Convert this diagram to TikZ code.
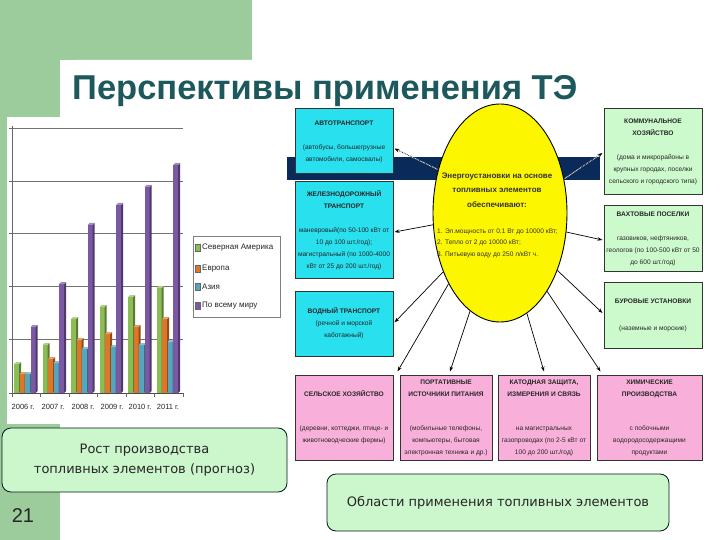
\documentclass[tikz,border=0pt]{standalone}
\usepackage{fontspec}
\setmainfont{Liberation Sans}
\newfontfamily\dejavu{DejaVu Sans}
\usetikzlibrary{shapes.geometric,arrows.meta,calc}
\definecolor{pagegreen}{RGB}{156,204,156}
\definecolor{titleteal}{RGB}{28,88,92}
\definecolor{navyband}{RGB}{10,42,90}
\definecolor{boxcyan}{RGB}{40,224,238}
\definecolor{boxgreen}{RGB}{204,250,204}
\definecolor{boxpink}{RGB}{248,176,218}
\definecolor{ellyellow}{RGB}{252,246,0}
\definecolor{roundfill}{RGB}{204,246,204}
\definecolor{cgreen}{RGB}{140,188,84}
\definecolor{corange}{RGB}{220,118,40}
\definecolor{cteal}{RGB}{84,166,190}
\definecolor{cpurple}{RGB}{122,88,164}
\newcommand\chartbar[3]{%
  \fill[#3] ({#1},393) rectangle ({#1+5},{#2});
  \fill[#3!65!black] ({#1+5},393) -- ({#1+5},{#2}) -- ({#1+7},{#2-2}) -- ({#1+7},391) -- cycle;
  \fill[#3!70!white] ({#1},{#2}) -- ({#1+2},{#2-2}) -- ({#1+7},{#2-2}) -- ({#1+5},{#2}) -- cycle;}
\tikzset{
  boxbase/.style={draw=black!80, line width=1pt, inner sep=0pt, align=center,
    font=\fontsize{6.6}{12}\selectfont, text=black!85},
  cyanbox/.style={boxbase, fill=boxcyan, minimum width=98pt},
  greenbox/.style={boxbase, fill=boxgreen, minimum width=98pt},
  pinkbox/.style={boxbase, fill=boxpink, minimum height=85pt},
  arr/.style={-{Stealth[length=5pt,width=3.5pt]}, line width=0.7pt, black},
  roundbox/.style={draw=black!80!teal, line width=0.8pt, fill=roundfill, rounded corners=9pt,
    align=center, inner sep=0pt, text=black!85, font=\dejavu\fontsize{13}{20}\selectfont},
  legtext/.style={anchor=west, inner sep=0pt, font=\fontsize{8}{8}\selectfont, text=black!85},
  yeartext/.style={inner sep=0pt, font=\fontsize{7.5}{7.5}\selectfont, text=black!85}
}
\begin{document}
\begin{tikzpicture}[x=1pt,y=-1pt]
\useasboundingbox (0,0) rectangle (720,540);
\clip (0,0) rectangle (720,540);
% page background
\fill[white] (0,0) rectangle (720,540);
\fill[pagegreen] (0,0) rectangle (252,60);
\fill[pagegreen] (0,0) rectangle (60,540);
\fill[white, rounded corners=16pt] (60,60) rectangle (780,600);
% chart
\fill[white] (7,117) rectangle (290,424);
\foreach \gy in {128,181,233,286,339} {\draw[black!55, line width=0.6pt] (12,\gy) -- (183,\gy);}
\draw[black!60, line width=0.6pt] (12,126) -- (12,395);
\foreach \gy in {128,181,233,286,339,393} {\draw[black!60, line width=0.6pt] (9,\gy) -- (12,\gy);}
\draw[black!70, line width=0.7pt] (12,393) -- (183,393);
\foreach \tx in {12,40.5,69,97.5,126,154.5,183} {\draw[black!60, line width=0.6pt] (\tx,393) -- (\tx,397);}
\foreach \gx/\ga/\gb/\gc/\gd in {14/364/374/374/327, 42.5/345/359/363/284, 71/319/340/349/225, 99.5/307/334/347/205, 128/297/327/345/187, 156.5/288/319/342/165} {
  \chartbar{\gx}{\ga}{cgreen}
  \chartbar{\gx+5.5}{\gb}{corange}
  \chartbar{\gx+11}{\gc}{cteal}
  \chartbar{\gx+16.5}{\gd}{cpurple}
}
\node[yeartext] (y06) at (23,407) {2006 г.};
\node[yeartext] (y07) at (53,407) {2007 г.};
\node[yeartext] (y08) at (83,407) {2008 г.};
\node[yeartext] (y09) at (112,407) {2009 г.};
\node[yeartext] (y10) at (140,407) {2010 г.};
\node[yeartext] (y11) at (168,407) {2011 г.};
% legend
\draw[black!50, line width=0.5pt] (193,236) rectangle (280,317);
\filldraw[fill=cgreen, draw=black!60, line width=0.3pt] (195,244.5) rectangle (200,251.5);
\filldraw[fill=corange, draw=black!60, line width=0.3pt] (195,265.5) rectangle (200,272.5);
\filldraw[fill=cteal, draw=black!60, line width=0.3pt] (195,283.5) rectangle (200,290.5);
\filldraw[fill=cpurple, draw=black!60, line width=0.3pt] (195,302.5) rectangle (200,309.5);
\node[legtext] (l1) at (202,248) {Северная Америка};
\node[legtext] (l2) at (202,269) {Европа};
\node[legtext] (l3) at (202,287) {Азия};
\node[legtext] (l4) at (202,306) {По всему миру};
% navy band
\fill[navyband] (287,157) rectangle (600,180);
% boxes
\node[cyanbox, minimum height=65pt] (auto) at (344,141.5) {\textbf{АВТОТРАНСПОРТ}\\[12pt](автобусы, большегрузные\\автомобили, самосвалы)};
\node[cyanbox, minimum height=96pt] (rail) at (344,230) {\textbf{ЖЕЛЕЗНОДОРОЖНЫЙ}\\\textbf{ТРАНСПОРТ}\\[12pt]маневровый(по 50-100 кВт от\\10 до 100 шт./год);\\магистральный (по 1000-4000\\кВт от 25 до 200 шт./год)};
\node[cyanbox, minimum height=65pt] (water) at (344,323.5) {\textbf{ВОДНЫЙ ТРАНСПОРТ}\\(речной и морской\\каботажный)};
\node[greenbox, minimum height=86pt] (komm) at (653,152) {\textbf{КОММУНАЛЬНОЕ}\\\textbf{ХОЗЯЙСТВО}\\[12pt](дома и микрорайоны в\\крупных городах, поселки\\сельского и городского типа)};
\node[greenbox, minimum height=65pt] (vakht) at (653,238.5) {\textbf{ВАХТОВЫЕ ПОСЕЛКИ}\\[12pt]газовиков, нефтяников,\\геологов (по 100-500 кВт от 50\\до 600 шт./год)};
\node[greenbox, minimum height=66pt] (bur) at (653,315) {\textbf{БУРОВЫЕ УСТАНОВКИ}\\[15pt](наземные и морские)};
\node[pinkbox, minimum width=98pt] (farm) at (344,417.5) {\textbf{СЕЛЬСКОЕ ХОЗЯЙСТВО}\\[22pt](деревни, коттеджи, птице- и\\животноводческие фермы)};
\node[pinkbox, minimum width=92pt] (port) at (446,417.5) {\textbf{ПОРТАТИВНЫЕ}\\\textbf{ИСТОЧНИКИ ПИТАНИЯ}\\[22pt](мобильные телефоны,\\компьютеры, бытовая\\электронная техника и др.)};
\node[pinkbox, minimum width=92pt] (cath) at (544,417.5) {\textbf{КАТОДНАЯ ЗАЩИТА,}\\\textbf{ИЗМЕРЕНИЯ И СВЯЗЬ}\\[22pt]на магистральных\\газопроводах (по 2-5 кВт от\\100 до 200 шт./год)};
\node[pinkbox, minimum width=105pt] (chem) at (649.5,417.5) {\textbf{ХИМИЧЕСКИЕ}\\\textbf{ПРОИЗВОДСТВА}\\[22pt]с побочными\\водородосодержащими\\продуктами};
% ellipse
\node[ellipse, draw=black, line width=0.9pt, fill=ellyellow, minimum width=134pt, minimum height=218pt, inner sep=0pt] (e) at (500,213) {};
\node[align=center, inner sep=0pt, font=\fontsize{8}{14.5}\selectfont\bfseries, text=black!80] (etitle) at (497,190) {Энергоустановки на основе\\топливных элементов\\обеспечивают:};
\node[anchor=west, align=left, inner sep=0pt, font=\fontsize{6.6}{11.5}\selectfont, text=black!80] (elist) at (437,243) {1. Эл.мощность от 0.1 Вт до 10000 кВт;\\2. Тепло от 2 до 10000 кВт;\\3. Питьевую воду до 250 л/кВт ч.};
% connectors
\draw[white, line width=0.8pt] (e.145) -- ($(auto.east)+(1,7)$);
\draw[arr, densely dotted] (e.145) -- ($(auto.east)+(1,7)$);
\draw[white, line width=0.8pt] (e.28) -- ($(komm.west)+(-1,1)$);
\draw[arr, densely dotted] (e.28) -- ($(komm.west)+(-1,1)$);
\draw[arr] (e.190) -- ($(rail.east)+(1,2)$);
\draw[arr] (e.226.5) -- ($(water.east)+(1,-1)$);
\draw[arr] (e.234) -- ($(farm.north east)+(4,-3)$);
\draw[arr] (e.253) -- ($(port.north)+(4,-3)$);
\draw[arr] (e.285) -- ($(cath.north)+(0,-3)$);
\draw[arr] (e.301) -- ($(chem.north west)+(4,-3)$);
\draw[arr] (e.344) -- ($(vakht.west)+(-1,1.5)$);
\draw[arr] (e.315) -- ($(bur.west)+(-1,-2)$);
% title
\node[anchor=base west, inner sep=0pt, font=\fontsize{34.5}{34.5}\selectfont\bfseries, text=titleteal] (title) at (72,100) {Перспективы применения ТЭ};
% bottom notes
\node[roundbox, minimum width=285pt, minimum height=64pt] (growth) at (144.5,460) {Рост производства\\топливных элементов (прогноз)};
\node[roundbox, minimum width=342pt, minimum height=57pt] (areas) at (498,502.5) {Области применения топливных элементов};
\node[inner sep=0pt, font=\fontsize{20}{20}\selectfont, text=black!85] (pagenum) at (23,516) {21};
\end{tikzpicture}
\end{document}
